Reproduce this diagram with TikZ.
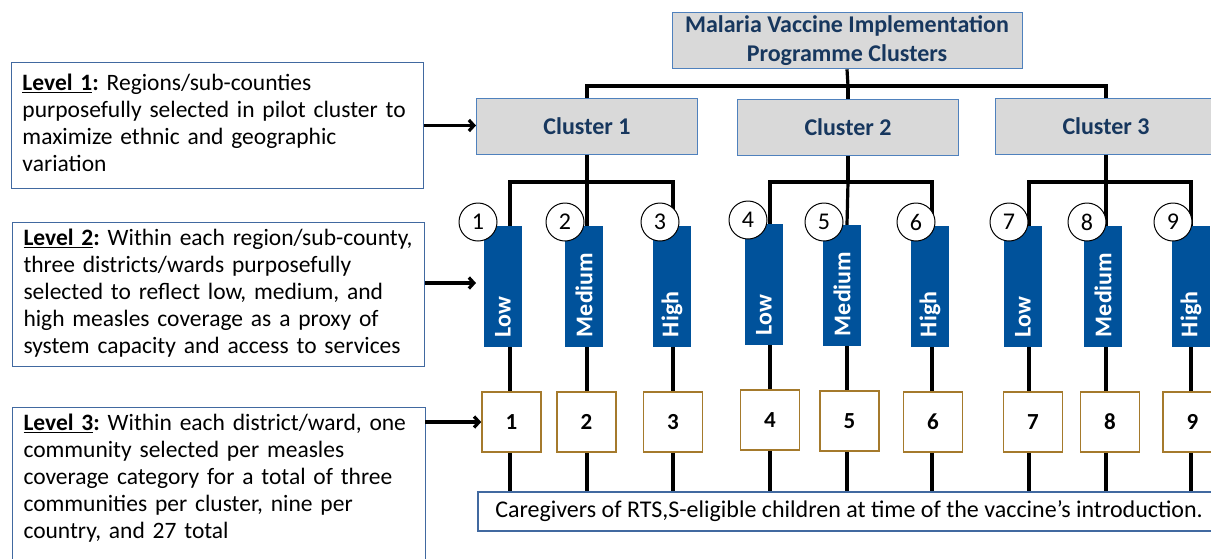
\documentclass[tikz,border=0pt]{standalone}
\usepackage{fontspec}
\setmainfont{Carlito}
\usetikzlibrary{arrows.meta,calc}
\definecolor{navy}{RGB}{23,55,94}
\definecolor{clborder}{RGB}{79,129,189}
\definecolor{clfill}{RGB}{217,217,217}
\definecolor{barblue}{RGB}{0,82,155}
\definecolor{boxbrown}{RGB}{165,122,44}
\definecolor{lvlblue}{RGB}{65,105,160}
\frenchspacing
\newcommand{\lvtext}[1]{\begin{tabular}{@{}l@{}}#1\end{tabular}}
\begin{document}
\begin{tikzpicture}[x=1pt,y=-1pt,
  conn/.style={line width=3.2pt,black},
  arr/.style={line width=3.2pt,black,-{Straight Barb[length=5pt,width=11pt]}},
  titlebox/.style={draw=clborder,fill=clfill,line width=1pt,minimum width=350pt,minimum height=55pt,align=center,text=navy,font=\fontsize{24}{29}\selectfont\bfseries},
  clbox/.style={draw=clborder,fill=clfill,line width=1pt,minimum width=221pt,minimum height=56pt,text=navy,font=\fontsize{24}{27}\selectfont\bfseries},
  barbox/.style={fill=barblue,minimum width=38pt,minimum height=121pt,inner sep=0pt},
  barlbl/.style={rotate=90,anchor=west,text=white,font=\fontsize{24}{27}\selectfont\bfseries,inner sep=0pt},
  circ/.style={circle,draw=black,line width=1pt,fill=white,minimum size=38pt,inner sep=0pt,font=\fontsize{24}{27}\selectfont},
  numbox/.style={draw=boxbrown,line width=1.6pt,fill=white,minimum width=59pt,minimum height=60pt,inner sep=0pt,font=\fontsize{23}{27}\selectfont\bfseries},
  lvl/.style={draw=lvlblue,line width=1pt,text width=390pt,inner xsep=11pt,align=left,anchor=north west,font=\fontsize{23.5}{27}\selectfont},
  carebox/.style={draw=lvlblue,line width=1.2pt,fill=white,minimum width=742pt,minimum height=39pt,font=\fontsize{24}{27}\selectfont}]
\useasboundingbox (0,0) rectangle (1211,558);
\clip (0,0) rectangle (1211,558);
% level boxes
\node[lvl,minimum height=126pt] (lv1) at (11,62) {\lvtext{\textbf{\underline{Level 1}:} Regions/sub-counties\\purposefully selected in pilot cluster to\\maximize ethnic and geographic\\variation}};
\node[lvl,minimum height=144pt] (lv2) at (12,222) {\lvtext{\textbf{\underline{Level 2}:} Within each region/sub-county,\\three districts/wards purposefully\\selected to reflect low, medium, and\\high measles coverage as a proxy of\\system capacity and access to services}};
\node[lvl,draw=none,inner ysep=4pt] (lv3) at (12,407) {\lvtext{\textbf{\underline{Level 3}:} Within each district/ward, one\\community selected per measles\\coverage category for a total of three\\communities per cluster, nine per\\country, and 27 total}};
\draw[draw=lvlblue,line width=1pt] (lv3.north west) rectangle ($(lv3.east)+(0,200)$);
% top and clusters
\node[titlebox] (top) at (847,40.5) {Malaria Vaccine Implementation\\Programme Clusters};
\node[clbox] (c1) at (587,126) {Cluster 1};
\node[clbox] (c2) at (848,127) {Cluster 2};
\node[clbox] (c3) at (1106,126) {Cluster 3};
\coordinate (j0) at (848,86);
\draw[conn] (top.south) -- (j0);
\draw[conn] (c1.north) |- (j0) -| (c3.north);
\draw[conn] (j0) -- (c2.north);
% caregivers
\node[carebox] (care) at (849,511.5) {Caregivers of RTS,S-eligible children at time of the vaccine’s introduction.};
% columns
\foreach \i/\L/\B/\C/\X/\dy/\lab in {1/510/503/478/511.5/0/Low,2/587/584/565/586.5/0/Medium,3/673/672/660/673/0/High,4/770/764/748/770/-2/Low,5/847/842/824/849.5/-1/Medium,6/932/930/916/933/0/High,7/1029/1023/1009/1033/0/Low,8/1106/1103/1087/1110/0/Medium,9/1191/1191/1173/1192.5/0/High}{
  \coordinate (l\i) at (\L,0);
  \node[barbox] (bar\i) at (\B,286.5+\dy) {};
  \node[barlbl] (lab\i) at ($(bar\i.south)+(0,-10)$) {\lab};
  \node[numbox] (box\i) at (\X,422+\dy) {\i};
  \draw[conn] (bar\i.south -| l\i) -- (box\i.north -| l\i);
  \draw[conn] (box\i.south -| l\i) -- (care.north -| l\i);
}
\coordinate (h1) at (587,182);
\coordinate (h2) at (848,182);
\coordinate (h3) at (1106,182);
\draw[conn] (c1.south) -- (h1);
\draw[conn] (c2.south) -- (h2);
\draw[conn] (c3.south) -- (h3);
\draw[conn] (bar1.north -| l1) |- (h1) -| (bar3.north -| l3);
\draw[conn] (h1) -- (bar2.north -| l2);
\draw[conn] (bar4.north -| l4) |- (h2) -| (bar6.north -| l6);
\draw[conn] (h2) -- (bar5.north -| l5);
\draw[conn] (bar7.north -| l7) |- (h3) -| (bar9.north -| l9);
\draw[conn] (h3) -- (bar8.north -| l8);
% circles
\foreach \i/\C/\dy in {1/478/0,2/565/0,3/660/0,4/748/-2,5/824/0,6/916/0,7/1009/0,8/1087/0,9/1173/0}{
  \node[circ] (cir\i) at (\C,222+\dy) {\i};
}
% level arrows
\coordinate (a2) at (476,283);
\draw[arr] (lv1.east) -- (lv1.east -| c1.west);
\draw[arr] (a2 -| lv2.east) -- (a2);
\draw[arr] (box1.west -| lv3.east) -- (box1.west);
\end{tikzpicture}
\end{document}
